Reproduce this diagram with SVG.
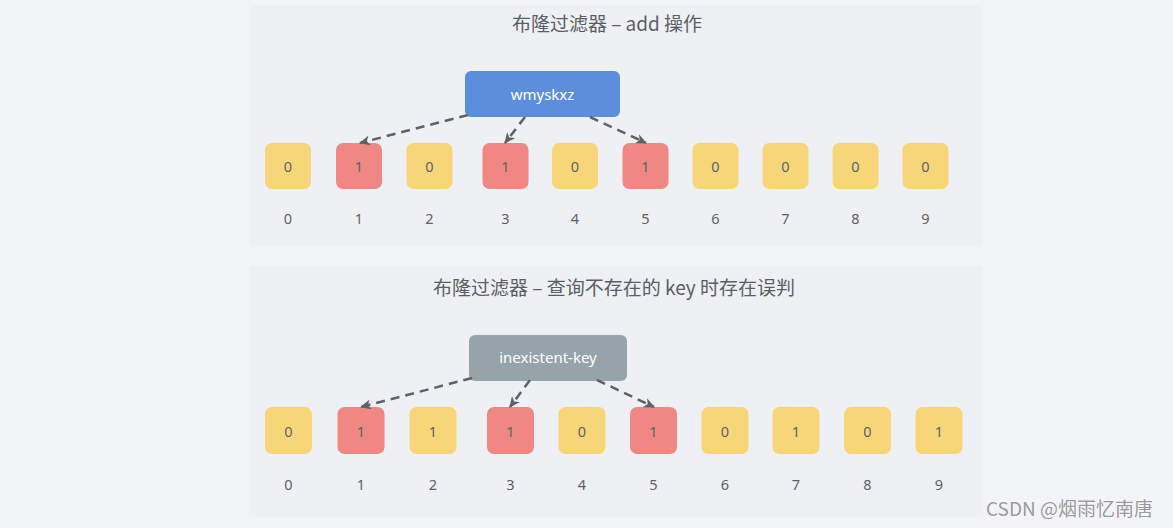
<svg xmlns="http://www.w3.org/2000/svg" width="1173" height="528" viewBox="0 0 1173 528">
  <style>
    .panel { fill: #eff0f4; }
    .title { font-family: "Noto Sans CJK SC", "Noto Sans", sans-serif; font-size: 19px; fill: #5a5d66; text-anchor: middle; dominant-baseline: central; }
    .cell0 { fill: #f7d67a; }
    .cell1 { fill: #ef8883; }
    .val { font-family: "Noto Sans", "Liberation Sans", sans-serif; font-size: 14.5px; fill: #5e6068; text-anchor: middle; dominant-baseline: central; }
    .idx { font-family: "Noto Sans", "Liberation Sans", sans-serif; font-size: 14.5px; fill: #5e6068; text-anchor: middle; dominant-baseline: central; }
    .key { font-family: "Noto Sans", "Liberation Sans", sans-serif; font-size: 15px; fill: #ffffff; text-anchor: middle; dominant-baseline: central; }
    .edge { fill: none; stroke: #5f6169; stroke-width: 2.5; stroke-dasharray: 9 6; marker-end: url(#arrow); }
    .mark { font-family: "Noto Sans CJK SC", "Noto Sans", sans-serif; font-size: 19px; fill: #9a9a9a; stroke: #ffffff; stroke-width: 0.6; paint-order: stroke; }
  </style>
  <defs>
    <marker id="arrow" markerWidth="12" markerHeight="10" refX="10" refY="5" orient="auto" markerUnits="userSpaceOnUse">
      <path d="M0,0 L11,5 L0,10 L3,5 Z" fill="#5f6169"/>
    </marker>
  </defs>

  <rect width="1173" height="528" fill="#f3f4f8"/>

  <!-- Section 1: add -->
  <g id="panel-add">
    <rect class="panel" x="250" y="5" width="732" height="242"/>
    <text class="title" x="607" y="22">布隆过滤器 – add 操作</text>
  </g>
  <g id="node-wmyskxz">
    <rect x="465" y="71" width="155" height="46" rx="6" fill="#5b8fdb"/>
    <text class="key" x="542.5" y="94">wmyskxz</text>
  </g>
  <g id="bits-add">
    <g id="a0"><rect class="cell0" x="265" y="143" width="46" height="46" rx="7"/><text class="val" x="288" y="166">0</text><text class="idx" x="288" y="218">0</text></g>
    <g id="a1"><rect class="cell1" x="336" y="143" width="46" height="46" rx="7"/><text class="val" x="359" y="166">1</text><text class="idx" x="359" y="218">1</text></g>
    <g id="a2"><rect class="cell0" x="406.5" y="143" width="46" height="46" rx="7"/><text class="val" x="429.5" y="166">0</text><text class="idx" x="429.5" y="218">2</text></g>
    <g id="a3"><rect class="cell1" x="482.5" y="143" width="46" height="46" rx="7"/><text class="val" x="505.5" y="166">1</text><text class="idx" x="505.5" y="218">3</text></g>
    <g id="a4"><rect class="cell0" x="552" y="143" width="46" height="46" rx="7"/><text class="val" x="575" y="166">0</text><text class="idx" x="575" y="218">4</text></g>
    <g id="a5"><rect class="cell1" x="622.5" y="143" width="46" height="46" rx="7"/><text class="val" x="645.5" y="166">1</text><text class="idx" x="645.5" y="218">5</text></g>
    <g id="a6"><rect class="cell0" x="692.5" y="143" width="46" height="46" rx="7"/><text class="val" x="715.5" y="166">0</text><text class="idx" x="715.5" y="218">6</text></g>
    <g id="a7"><rect class="cell0" x="762.5" y="143" width="46" height="46" rx="7"/><text class="val" x="785.5" y="166">0</text><text class="idx" x="785.5" y="218">7</text></g>
    <g id="a8"><rect class="cell0" x="832.5" y="143" width="46" height="46" rx="7"/><text class="val" x="855.5" y="166">0</text><text class="idx" x="855.5" y="218">8</text></g>
    <g id="a9"><rect class="cell0" x="902.5" y="143" width="46" height="46" rx="7"/><text class="val" x="925.5" y="166">0</text><text class="idx" x="925.5" y="218">9</text></g>
  </g>

  <!-- Section 2: false positive -->
  <g id="panel-query">
    <rect class="panel" x="249" y="266" width="734" height="251"/>
    <text class="title" x="614" y="286">布隆过滤器 – 查询不存在的 key 时存在误判</text>
  </g>
  <g id="node-inexistent-key">
    <rect x="469" y="335" width="158" height="46" rx="6" fill="#95a4ab"/>
    <text class="key" x="548" y="357">inexistent-key</text>
  </g>
  <g id="bits-query">
    <g id="q0"><rect class="cell0" x="265" y="407" width="47" height="47" rx="7"/><text class="val" x="288.5" y="431">0</text><text class="idx" x="288.5" y="484">0</text></g>
    <g id="q1"><rect class="cell1" x="337.5" y="407" width="47" height="47" rx="7"/><text class="val" x="361" y="431">1</text><text class="idx" x="361" y="484">1</text></g>
    <g id="q2"><rect class="cell0" x="409.5" y="407" width="47" height="47" rx="7"/><text class="val" x="433" y="431">1</text><text class="idx" x="433" y="484">2</text></g>
    <g id="q3"><rect class="cell1" x="487" y="407" width="47" height="47" rx="7"/><text class="val" x="510.5" y="431">1</text><text class="idx" x="510.5" y="484">3</text></g>
    <g id="q4"><rect class="cell0" x="558.5" y="407" width="47" height="47" rx="7"/><text class="val" x="582" y="431">0</text><text class="idx" x="582" y="484">4</text></g>
    <g id="q5"><rect class="cell1" x="630" y="407" width="47" height="47" rx="7"/><text class="val" x="653.5" y="431">1</text><text class="idx" x="653.5" y="484">5</text></g>
    <g id="q6"><rect class="cell0" x="701.5" y="407" width="47" height="47" rx="7"/><text class="val" x="725" y="431">0</text><text class="idx" x="725" y="484">6</text></g>
    <g id="q7"><rect class="cell0" x="772.5" y="407" width="47" height="47" rx="7"/><text class="val" x="796" y="431">1</text><text class="idx" x="796" y="484">7</text></g>
    <g id="q8"><rect class="cell0" x="844" y="407" width="47" height="47" rx="7"/><text class="val" x="867.5" y="431">0</text><text class="idx" x="867.5" y="484">8</text></g>
    <g id="q9"><rect class="cell0" x="915.5" y="407" width="47" height="47" rx="7"/><text class="val" x="939" y="431">1</text><text class="idx" x="939" y="484">9</text></g>
  </g>

  <!-- hash connectors -->
  <g id="connectors">
    <path class="edge" d="M468,115 L360,143"/>
    <path class="edge" d="M525,117 L505,143"/>
    <path class="edge" d="M590,117 L646,143"/>
    <path class="edge" d="M472,378 L361,407"/>
    <path class="edge" d="M530,380 L510,407"/>
    <path class="edge" d="M597,380 L654,407"/>
  </g>

  <text class="mark" x="986" y="516">CSDN @烟雨忆南唐</text>
</svg>
